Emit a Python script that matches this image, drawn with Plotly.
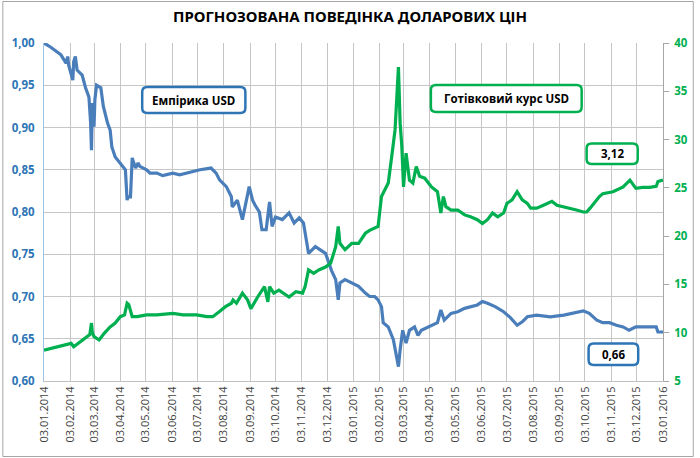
import plotly.graph_objects as go
import pandas as pd

# ---------------- data ----------------
emp_dates = ["2014-01-03","2014-01-11","2014-01-23","2014-01-26","2014-01-29","2014-01-31","2014-02-01",
             "2014-02-06","2014-02-07","2014-02-09","2014-02-11","2014-02-17","2014-02-21","2014-02-25",
             "2014-02-27","2014-02-28","2014-03-01","2014-03-03","2014-03-04","2014-03-06","2014-03-11",
             "2014-03-14","2014-03-19","2014-03-22","2014-03-24","2014-03-28","2014-04-03","2014-04-09",
             "2014-04-11","2014-04-12","2014-04-15","2014-04-17","2014-04-21","2014-04-24","2014-04-26",
             "2014-05-04","2014-05-08","2014-05-16","2014-05-23","2014-06-04","2014-06-12","2014-06-20",
             "2014-07-06","2014-07-19","2014-07-25","2014-07-29","2014-08-06","2014-08-12","2014-08-13",
             "2014-08-19","2014-08-25","2014-09-02","2014-09-06","2014-09-09","2014-09-14","2014-09-17",
             "2014-09-22","2014-09-26","2014-09-29","2014-10-03","2014-10-11","2014-10-19","2014-10-25",
             "2014-10-31","2014-11-05","2014-11-09","2014-11-11","2014-11-19","2014-11-25","2014-12-01",
             "2014-12-08","2014-12-13","2014-12-16","2014-12-18","2014-12-24","2015-01-01","2015-01-09",
             "2015-01-17","2015-01-22","2015-01-28","2015-02-01","2015-02-05","2015-02-07","2015-02-13",
             "2015-02-19","2015-02-22","2015-02-25","2015-02-27","2015-03-02","2015-03-06","2015-03-10",
             "2015-03-16","2015-03-20","2015-03-24","2015-04-01","2015-04-12","2015-04-16","2015-04-18",
             "2015-04-20","2015-04-28","2015-05-06","2015-05-14","2015-05-21","2015-05-29","2015-06-04",
             "2015-06-10","2015-06-19","2015-06-29","2015-07-07","2015-07-15","2015-07-21","2015-07-27",
             "2015-08-07","2015-08-23","2015-09-08","2015-09-23","2015-10-01","2015-10-08","2015-10-17",
             "2015-10-24","2015-11-01","2015-11-09","2015-11-17","2015-11-24","2015-12-02","2015-12-18",
             "2015-12-26","2015-12-28","2016-01-03"]
emp_values = [1.000,0.995,0.986,0.980,0.976,0.984,0.974,
              0.956,0.978,0.984,0.968,0.962,0.947,0.936,
              0.905,0.873,0.929,0.901,0.933,0.950,0.947,
              0.925,0.905,0.897,0.877,0.865,0.858,0.850,
              0.814,0.818,0.818,0.864,0.852,0.858,0.854,
              0.850,0.846,0.846,0.843,0.846,0.844,0.846,
              0.850,0.852,0.846,0.838,0.830,0.818,0.806,
              0.814,0.791,0.830,0.814,0.808,0.800,0.779,
              0.779,0.812,0.783,0.794,0.791,0.799,0.787,
              0.793,0.787,0.763,0.751,0.759,0.755,0.751,
              0.731,0.720,0.696,0.716,0.720,0.716,0.712,
              0.704,0.700,0.700,0.696,0.688,0.669,0.664,
              0.649,0.633,0.617,0.637,0.660,0.645,0.660,
              0.664,0.654,0.660,0.664,0.669,0.684,0.677,
              0.672,0.680,0.682,0.686,0.688,0.690,0.694,
              0.692,0.688,0.682,0.675,0.666,0.670,0.676,
              0.678,0.676,0.678,0.681,0.683,0.680,0.672,
              0.669,0.669,0.666,0.664,0.660,0.664,0.664,
              0.664,0.658,0.658]

cash_dates = ["2014-01-03","2014-01-19","2014-01-26","2014-02-04","2014-02-07","2014-02-15","2014-02-23",
              "2014-02-26","2014-02-28","2014-03-01","2014-03-03","2014-03-09","2014-03-15","2014-03-22",
              "2014-03-28","2014-04-03","2014-04-08","2014-04-11","2014-04-13","2014-04-17","2014-04-23",
              "2014-05-04","2014-05-16","2014-06-04","2014-06-16","2014-07-02","2014-07-14","2014-07-21",
              "2014-07-29","2014-08-05","2014-08-12","2014-08-14","2014-08-18","2014-08-25","2014-08-31",
              "2014-09-04","2014-09-12","2014-09-20","2014-09-24","2014-09-26","2014-10-01","2014-10-07",
              "2014-10-19","2014-10-27","2014-11-04","2014-11-07","2014-11-11","2014-11-17","2014-11-23",
              "2014-12-01","2014-12-07","2014-12-13","2014-12-16","2014-12-18","2014-12-24","2015-01-01",
              "2015-01-09","2015-01-17","2015-01-22","2015-01-28","2015-02-01","2015-02-05","2015-02-09",
              "2015-02-13","2015-02-17","2015-02-21","2015-02-25","2015-02-27","2015-03-01","2015-03-03",
              "2015-03-06","2015-03-10","2015-03-14","2015-03-18","2015-03-22","2015-03-28","2015-04-05",
              "2015-04-12","2015-04-16","2015-04-19","2015-04-22","2015-04-28","2015-05-06","2015-05-14",
              "2015-05-21","2015-05-29","2015-06-04","2015-06-10","2015-06-16","2015-06-22","2015-06-29",
              "2015-07-03","2015-07-09","2015-07-15","2015-07-21","2015-07-27","2015-07-31","2015-08-07",
              "2015-08-15","2015-08-25","2015-08-31","2015-09-08","2015-09-15","2015-09-23","2015-10-01",
              "2015-10-05","2015-10-09","2015-10-15","2015-10-20","2015-10-24","2015-11-05","2015-11-17",
              "2015-11-25","2015-12-02","2015-12-10","2015-12-18","2015-12-26","2015-12-28","2016-01-03"]
cash_values = [8.2,8.55,8.7,8.9,8.55,9.05,9.6,
               9.8,11.0,10.0,9.6,9.25,9.94,10.6,
               11.0,11.66,11.84,13.05,12.9,11.66,11.66,
               11.84,11.84,12.0,11.84,11.84,11.66,11.66,
               12.2,12.7,13.05,13.4,13.05,14.1,13.4,
               12.5,13.7,14.77,13.2,14.77,14.1,14.4,
               13.7,14.25,14.1,14.8,16.5,16.15,16.5,
               16.8,17.2,18.9,21.0,19.26,18.6,19.26,
               19.26,20.3,20.6,20.8,21.0,24.1,24.8,
               25.5,28.2,31.0,37.5,31.7,29.3,25.1,
               28.6,25.8,25.5,27.2,26.2,26.0,25.1,
               24.6,22.4,24.1,23.05,22.7,22.7,22.2,
               22.0,21.7,21.3,21.7,22.4,22.0,22.4,
               23.4,23.75,24.6,23.75,23.4,22.9,22.9,
               23.2,23.6,23.2,23.05,22.9,22.7,22.5,
               22.5,22.9,23.6,24.1,24.4,24.6,25.1,
               25.8,24.95,25.05,25.05,25.15,25.65,25.8]

tick_dates = pd.date_range("2014-01-01", "2016-01-01", freq="MS") + pd.Timedelta(days=2)
tick_labels = [d.strftime("%d.%m.%Y") for d in tick_dates]

title_text = "ПРОГНОЗОВАНА ПОВЕДІНКА ДОЛАРОВИХ ЦІН"
emp_name = "Емпірика USD"
cash_name = "Готівковий курс USD"
cash_last_label = "3,12"
emp_last_label = "0,66"

# ---------------- layout constants ----------------
W, H = 700, 458
L, R, T, B = 43, 33, 43, 77
PW, PH = W - L - R, H - T - B
BLUE = "#4a7ebb"
BLUE_DARK = "#2e75b6"
GREEN = "#00b050"
GRID = "#c6c6c6"


def px2paper(x, y):
    return (x - L) / PW, (T + PH - y) / PH


def rounded_box(x0, y0, x1, y1, r, color, width):
    def P(x, y):
        a, b = px2paper(x, y)
        return f"{a:.5f},{b:.5f}"
    path = (f"M {P(x0 + r, y0)} L {P(x1 - r, y0)} Q {P(x1, y0)} {P(x1, y0 + r)} "
            f"L {P(x1, y1 - r)} Q {P(x1, y1)} {P(x1 - r, y1)} "
            f"L {P(x0 + r, y1)} Q {P(x0, y1)} {P(x0, y1 - r)} "
            f"L {P(x0, y0 + r)} Q {P(x0, y0)} {P(x0 + r, y0)} Z")
    return dict(type="path", path=path, xref="paper", yref="paper",
                line=dict(color=color, width=width), fillcolor="white", layer="above")


fig = go.Figure()
fig.add_trace(go.Scatter(x=emp_dates, y=emp_values, mode="lines", name=emp_name,
                         line=dict(color=BLUE, width=3.2), yaxis="y"))
fig.add_trace(go.Scatter(x=cash_dates, y=cash_values, mode="lines", name=cash_name,
                         line=dict(color=GREEN, width=3.2), yaxis="y2"))

FONT = "Open Sans, Noto Sans, sans-serif"

shapes = [
    dict(type="rect", xref="paper", yref="paper",
         x0=px2paper(1.5, 0)[0], x1=px2paper(697.5, 0)[0],
         y0=px2paper(0, 456.5)[1], y1=px2paper(0, 1.5)[1],
         line=dict(color="#a6a6a6", width=1), layer="below"),
    rounded_box(142, 87, 246, 113, 5, BLUE_DARK, 2.5),
    rounded_box(433, 85, 585, 112, 5, GREEN, 2.5),
    rounded_box(590, 143.5, 641.5, 164, 5, GREEN, 2.5),
    rounded_box(592, 343.5, 642, 365, 5, BLUE_DARK, 2.5),
]


def label(cx, cy, text):
    x, y = px2paper(cx, cy)
    return dict(x=x, y=y, xref="paper", yref="paper", text=f"<b>{text}</b>",
                showarrow=False, font=dict(family=FONT, size=11.5, color="#000000"),
                xanchor="center", yanchor="middle")


annotations = [
    label(194, 100, emp_name),
    label(509, 98.5, cash_name),
    label(616, 153.5, cash_last_label),
    label(617, 354, emp_last_label),
]

fig.update_layout(
    width=W, height=H,
    margin=dict(l=L, r=R, t=T, b=B),
    paper_bgcolor="white", plot_bgcolor="white",
    separators=", ",
    showlegend=False,
    title=dict(text=f"<b>{title_text}</b>", x=0.5, xanchor="center", y=1 - 17 / H, yanchor="middle",
               font=dict(family="Liberation Sans Narrow, Arial Narrow, Noto Sans, sans-serif", size=15, color="#000000")),
    xaxis=dict(type="date", range=["2014-01-03", "2016-01-03"],
               tickmode="array", tickvals=list(tick_dates), ticktext=tick_labels,
               tickangle=-90, tickfont=dict(family=FONT, size=11, color="#404040"),
               showgrid=True, gridcolor=GRID, gridwidth=1,
               showline=True, linecolor="#bfbfbf", zeroline=False, ticks=""),
    yaxis=dict(range=[0.6, 1.0], dtick=0.05, tick0=0.6, tickformat=".2f",
               tickfont=dict(family=FONT, size=11.5, color=BLUE_DARK, weight="bold"),
               showgrid=True, gridcolor=GRID, gridwidth=1,
               showline=True, linecolor="#9dc3e6", zeroline=False, ticks="",
               ticklabelstandoff=6),
    yaxis2=dict(range=[5, 40], dtick=5, tick0=5, overlaying="y", side="right",
                tickfont=dict(family=FONT, size=11.5, color=GREEN, weight="bold"),
                showgrid=False, showline=True, linecolor="#a6a6a6", zeroline=False,
                ticks="outside", ticklen=5, tickcolor="#a6a6a6", ticklabelstandoff=3),
    shapes=shapes,
    annotations=annotations,
)

fig.write_html("out.html")
